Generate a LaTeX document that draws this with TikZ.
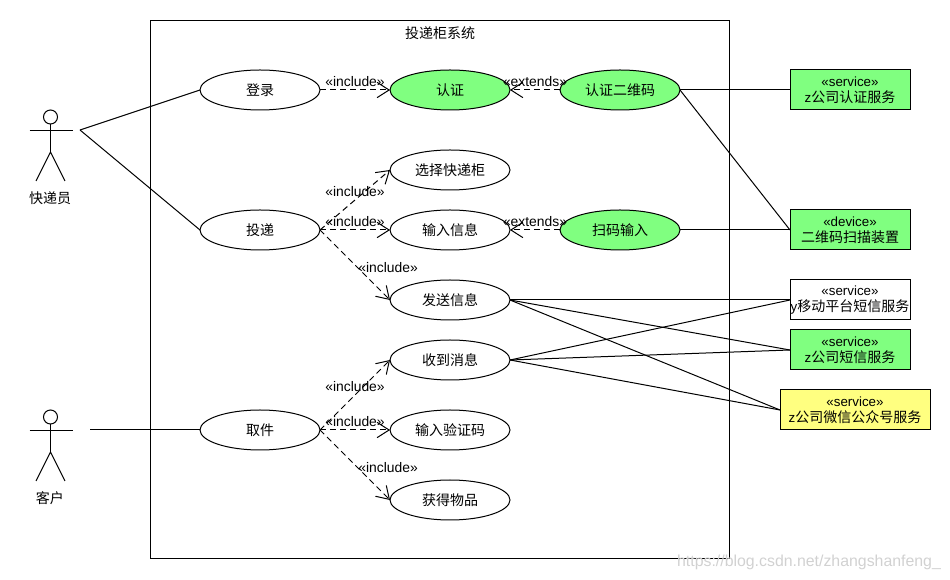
\documentclass[tikz,border=0pt]{standalone}
\usepackage{fontspec}
\setmainfont{Liberation Sans}
\newfontfamily\cjk[Scale=1.05]{Noto Sans CJK SC}
\newcommand{\zh}[1]{{\cjk #1}}
\usepackage{xcolor}
\usetikzlibrary{shapes.geometric, arrows.meta, positioning}

\definecolor{usegreen}{HTML}{80FF80}
\definecolor{svcyellow}{HTML}{FFFF80}

\begin{document}
\begin{tikzpicture}[
    x=0.75pt, y=-0.75pt,
    line width=0.75pt,
    every node/.style={font=\fontsize{10}{12}\selectfont},
    usecase/.style={draw, shape=ellipse, minimum width=90pt, minimum height=30pt, inner sep=0pt, outer sep=0pt, fill=white},
    service/.style={draw, rectangle, minimum width=90pt, minimum height=30pt, inner sep=0pt, outer sep=0pt, align=center, font=\fontsize{10}{12.2}\selectfont},
    dep/.style={dash pattern=on 4.5pt off 3pt, -{Straight Barb[length=9pt,width=11.5pt]}},
    tag/.style={inner sep=2.2pt, font=\fontsize{10.4}{12}\selectfont},
    assoc/.style={line width=0.75pt},
    actor/.pic={
      \draw (0,0) circle [radius=7];
      \draw (-21,14) -- (22,14);
      \draw (0,7) -- (0,35);
      \draw (-14.5,64) -- (0,35) -- (14.5,64);
    }
]
\useasboundingbox (0,0) rectangle (950,580);

% system frame
\draw (150.5,20.5) rectangle (729.5,559);
\node (systitle) at (440,33) {\zh{投递柜系统}};

% actors
\pic at (50.5,117) {actor};
\node (courier) at (50,198) {\zh{快递员}};
\coordinate (courierend) at (80,130);
\pic at (50.5,417) {actor};
\node (customer) at (50,498) {\zh{客户}};
\coordinate (customerend) at (90,430);

% use cases
\node[usecase] (login) at (260,90) {\zh{登录}};
\node[usecase, fill=usegreen, right=52.5pt of login] (auth) {\zh{认证}};
\node[usecase, fill=usegreen, right=37.5pt of auth] (authqr) {\zh{认证二维码}};
\node[usecase] (deliver) at (260,230) {\zh{投递}};
\node[usecase, right=52.5pt of deliver] (input) {\zh{输入信息}};
\node[usecase, above=15pt of input] (choose) {\zh{选择快递柜}};
\node[usecase, fill=usegreen, right=37.5pt of input] (scan) {\zh{扫码输入}};
\node[usecase, below=22.5pt of input] (send) {\zh{发送信息}};
\node[usecase, below=15pt of send] (receive) {\zh{收到消息}};
\node[usecase] (pickup) at (260,430) {\zh{取件}};
\node[usecase, right=52.5pt of pickup] (code) {\zh{输入验证码}};
\node[usecase, below=22.5pt of code] (goods) {\zh{获得物品}};

% services
\node[service, fill=usegreen] (authsvc) at (850,90) {«service»\\z\zh{公司认证服务}};
\node[service, fill=usegreen] (scanner) at (850,230) {«device»\\\zh{二维码扫描装置}};
\node[service, fill=white] (mobilesvc) at (850,300) {«service»\\y\zh{移动平台短信服务}};
\node[service, fill=usegreen] (smssvc) at (850,350) {«service»\\z\zh{公司短信服务}};
\node[service, fill=svcyellow, minimum width=112.5pt] (wechatsvc) at (855,410) {«service»\\z\zh{公司微信公众号服务}};

% actor links
\draw[assoc] (courierend) -- (login.west);
\draw[assoc] (courierend) -- (deliver.west);
\draw[assoc] (customerend) -- (pickup.west);

% include / extends
\draw[dep] (login.east) -- node[tag, above] {«include»} (auth.west);
\draw[dep] (authqr.west) -- node[tag, above] {«extends»} (auth.east);
\draw[dep] (deliver.east) -- node[tag, above] {«include»} (choose.west);
\draw[dep] (deliver.east) -- node[tag, above] {«include»} (input.west);
\draw[dep] (deliver.east) -- node[tag, right, yshift=-2pt] {«include»} (send.west);
\draw[dep] (scan.west) -- node[tag, above] {«extends»} (input.east);
\draw[dep] (pickup.east) -- node[tag, above] {«include»} (receive.west);
\draw[dep] (pickup.east) -- node[tag, above] {«include»} (code.west);
\draw[dep] (pickup.east) -- node[tag, right, yshift=-2pt] {«include»} (goods.west);

% service links
\draw[assoc] (authqr.east) -- (authsvc.west);
\draw[assoc] (authqr.east) -- (scanner.west);
\draw[assoc] (scan.east) -- (scanner.west);
\draw[assoc] (send.east) -- (mobilesvc.west);
\draw[assoc] (send.east) -- (smssvc.west);
\draw[assoc] (send.east) -- (wechatsvc.west);
\draw[assoc] (receive.east) -- (mobilesvc.west);
\draw[assoc] (receive.east) -- (smssvc.west);
\draw[assoc] (receive.east) -- (wechatsvc.west);

\node[text=black!18, font=\fontsize{11.9}{12}\selectfont] (watermark) at (809,562) {https://blog.csdn.net/zhangshanfeng\_};
\end{tikzpicture}
\end{document}
